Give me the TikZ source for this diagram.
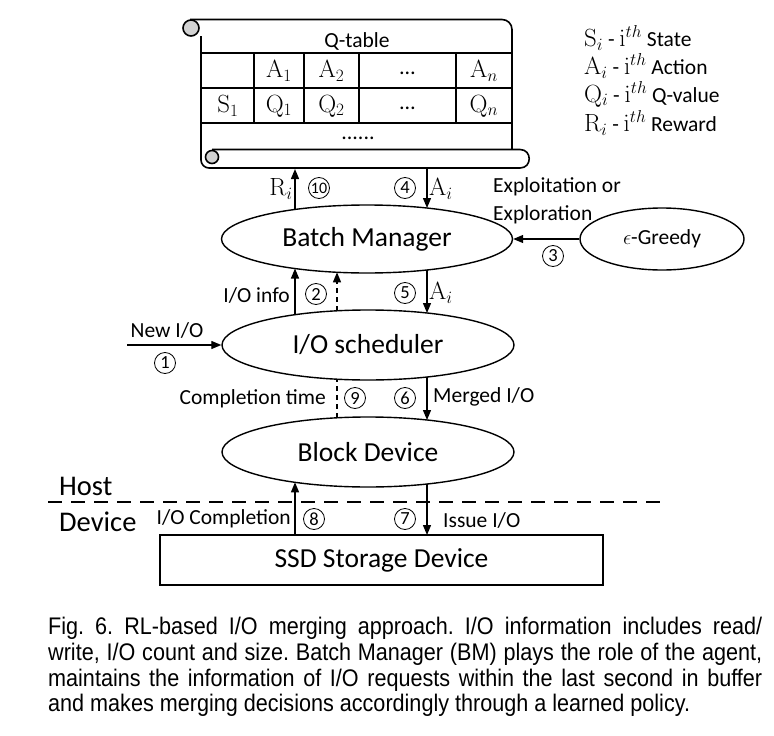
\documentclass[tikz,border=0pt]{standalone}
\usepackage[no-math]{fontspec}
\setmainfont{Carlito}
\newfontfamily\capfont[FakeStretch=0.9]{Liberation Sans}
\newcommand\mv[1]{{\fontsize{24}{26}\selectfont$#1$}}
\usetikzlibrary{arrows.meta,shapes.geometric}
\begin{document}
\begin{tikzpicture}[x=1pt,y=-1pt,
  ell/.style={draw, ellipse, line width=1.4pt, inner sep=0pt, font=\fontsize{27.5}{30}\selectfont},
  arr/.style={-{Triangle[length=10pt,width=8pt]}, line width=1.3pt},
  dsh/.style={dash pattern=on 5pt off 4pt, line width=1.3pt},
  cnum/.style={circle, draw, line width=0.8pt, inner sep=0pt, minimum size=21pt, font=\fontsize{18.5}{18.5}\selectfont},
  lbl/.style={inner sep=0pt, font=\fontsize{21.5}{24}\selectfont},
  tbl/.style={inner sep=0pt, font=\fontsize{22}{24}\selectfont},
  scroll/.style={line width=1.6pt, line join=round},
  captxt/.style={inner sep=0pt, anchor=base west, font=\capfont\fontsize{24}{25.6}\selectfont\frenchspacing}]
\useasboundingbox (0,0) rectangle (774,736);

% ---- scroll (Q-table) ----
\draw[scroll, rounded corners=10pt] (190,19.5) -- (512,19.5) -- (512,149.5);
\draw[scroll, rounded corners=8pt] (201,36) -- (201,168) -- (520,168);
\draw[scroll] (520,168) .. controls (532.3,168) and (532.3,149.5) .. (520,149.5) -- (212,149.5);
\draw[scroll, fill=gray!35] (191,28) circle[radius=8];
\draw[scroll, fill=gray!35] (212,157) circle[radius=6.5];
% table rules
\draw[line width=1.4pt] (201,53) -- (512,53) (201,88) -- (512,88) (201,123) -- (512,123);
\draw[line width=1.4pt] (254,53) -- (254,123) (304,53) -- (304,123) (359,53) -- (359,123) (456,53) -- (456,123);
\node[lbl] (qt) at (357,41) {Q-table};
\node[tbl] (a1) at (279,71) {\mv{\mathrm{A}_1}};
\node[tbl] (a2) at (331.5,71) {\mv{\mathrm{A}_2}};
\node[tbl] (ad) at (407.5,73) {…};
\node[tbl] (an) at (484,71) {\mv{\mathrm{A}_n}};
\node[tbl] (s1) at (228,106) {\mv{\mathrm{S}_1}};
\node[tbl] (q1) at (279,106) {\mv{\mathrm{Q}_1}};
\node[tbl] (q2) at (331.5,106) {\mv{\mathrm{Q}_2}};
\node[tbl] (qd) at (407.5,108) {…};
\node[tbl] (qn) at (484,106) {\mv{\mathrm{Q}_n}};
\node[tbl] (dots) at (358,138) {......};
\coordinate (qbl) at (295,169);
\coordinate (qbr) at (427,168);

% ---- legend ----
\node[lbl, anchor=west] (l1) at (584,38) {\mv{\mathrm{S}_i} - \mv{\mathrm{i}^{th}} State};
\node[lbl, anchor=west] (l2) at (584,66) {\mv{\mathrm{A}_i} - \mv{\mathrm{i}^{th}} Action};
\node[lbl, anchor=west] (l3) at (584,94) {\mv{\mathrm{Q}_i} - \mv{\mathrm{i}^{th}} Q-value};
\node[lbl, anchor=west] (l4) at (584,123) {\mv{\mathrm{R}_i} - \mv{\mathrm{i}^{th}} Reward};

% ---- main nodes ----
\node[ell, minimum width=291pt, minimum height=68pt] (bm) at (367,239) {Batch Manager};
\node[ell, minimum width=164pt, minimum height=62pt, font=\fontsize{21.5}{24}\selectfont] (eg) at (662,239) {$\epsilon$-Greedy};
\node[ell, minimum width=292pt, minimum height=70pt] (io) at (368,345) {I/O scheduler};
\node[ell, minimum width=292pt, minimum height=70pt] (bd) at (368,452) {Block Device};
\node[draw, line width=1.4pt, minimum width=443pt, minimum height=50pt, inner sep=0pt,
      font=\fontsize{27.5}{30}\selectfont] (ssd) at (381.5,560) {SSD Storage Device};

% ---- connectors ----
\draw[arr] ([shift={(-72,-29.5)}]bm.center) -- (qbl);
\draw[arr] (qbr) -- ([shift={(60,-31)}]bm.center);
\draw[arr] (eg.west) -- (bm.east);
\draw[arr] ([shift={(-73,-30.3)}]io.center) -- ([shift={(-72,29.5)}]bm.center);
\draw[dsh, -{Triangle[length=10pt,width=8pt]}] ([shift={(-31,-34.2)}]io.center) -- ([shift={(-30,33.3)}]bm.center);
\draw[arr] ([shift={(60,31)}]bm.center) -- ([shift={(59,-32)}]io.center);
\coordinate (newio) at (127,345);
\draw[arr] (newio) -- (io.west);
\draw[dsh] ([shift={(-31,-34.2)}]bd.center) -- ([shift={(-31,34.2)}]io.center);
\draw[arr] ([shift={(59,32)}]io.center) -- ([shift={(59,-32)}]bd.center);
\coordinate (ssdup) at (295,535);
\coordinate (ssddn) at (427,535);
\draw[arr] (ssdup) -- ([shift={(-73,30.3)}]bd.center);
\draw[arr] ([shift={(59,32)}]bd.center) -- (ssddn);

% ---- host / device ----
\coordinate (hl) at (48,502);
\coordinate (hr) at (665,502);
\draw[line width=2.6pt, dash pattern=on 14pt off 9pt] (hl) -- (hr);
\node[lbl, anchor=west, font=\fontsize{28.5}{30}\selectfont] (host) at (59,486) {Host};
\node[lbl, anchor=west, font=\fontsize{28.5}{30}\selectfont] (dev) at (59,522) {Device};

% ---- labels ----
\node[lbl] (rl) at (281,189) {\mv{\mathrm{R}_i}};
\node[cnum, font=\fontsize{16}{16}\selectfont] (c10) at (319,188) {10};
\node[cnum] (c4) at (405,188) {4};
\node[lbl] (al1) at (441,189) {\mv{\mathrm{A}_i}};
\node[lbl, anchor=west] (ex1) at (493,187) {Exploitation or};
\node[lbl, anchor=west] (ex2) at (493,215) {Exploration};
\node[cnum] (c3) at (553,256) {3};
\node[lbl, anchor=east] (ioi) at (290,295) {I/O info};
\node[cnum] (c2) at (316,294) {2};
\node[cnum] (c5) at (405,293) {5};
\node[lbl] (al2) at (441,293) {\mv{\mathrm{A}_i}};
\node[lbl] (nio) at (167,330) {New I/O};
\node[cnum] (c1) at (165,363) {1};
\node[lbl, anchor=east] (ct) at (326,399) {Completion time};
\node[cnum] (c9) at (355,398) {9};
\node[cnum] (c6) at (405,398) {6};
\node[lbl, anchor=west] (mio) at (433,397) {Merged I/O};
\node[lbl, anchor=east] (ioc) at (291,519) {I/O Completion};
\node[cnum] (c8) at (314,519) {8};
\node[cnum] (c7) at (405,519) {7};
\node[lbl, anchor=west] (iss) at (443,520) {Issue I/O};

% ---- caption ----
\node[captxt] (cp1) at (48,634) {\makebox[714pt][s]{Fig. 6. RL-based I/O merging approach. I/O information includes read/}};
\node[captxt] (cp2) at (48,660) {\makebox[714pt][s]{write, I/O count and size. Batch Manager (BM) plays the role of the agent,}};
\node[captxt] (cp3) at (48,686) {\makebox[714pt][s]{maintains the information of I/O requests within the last second in buffer}};
\node[captxt] (cp4) at (48,711) {and makes merging decisions accordingly through a learned policy.};
\end{tikzpicture}
\end{document}
